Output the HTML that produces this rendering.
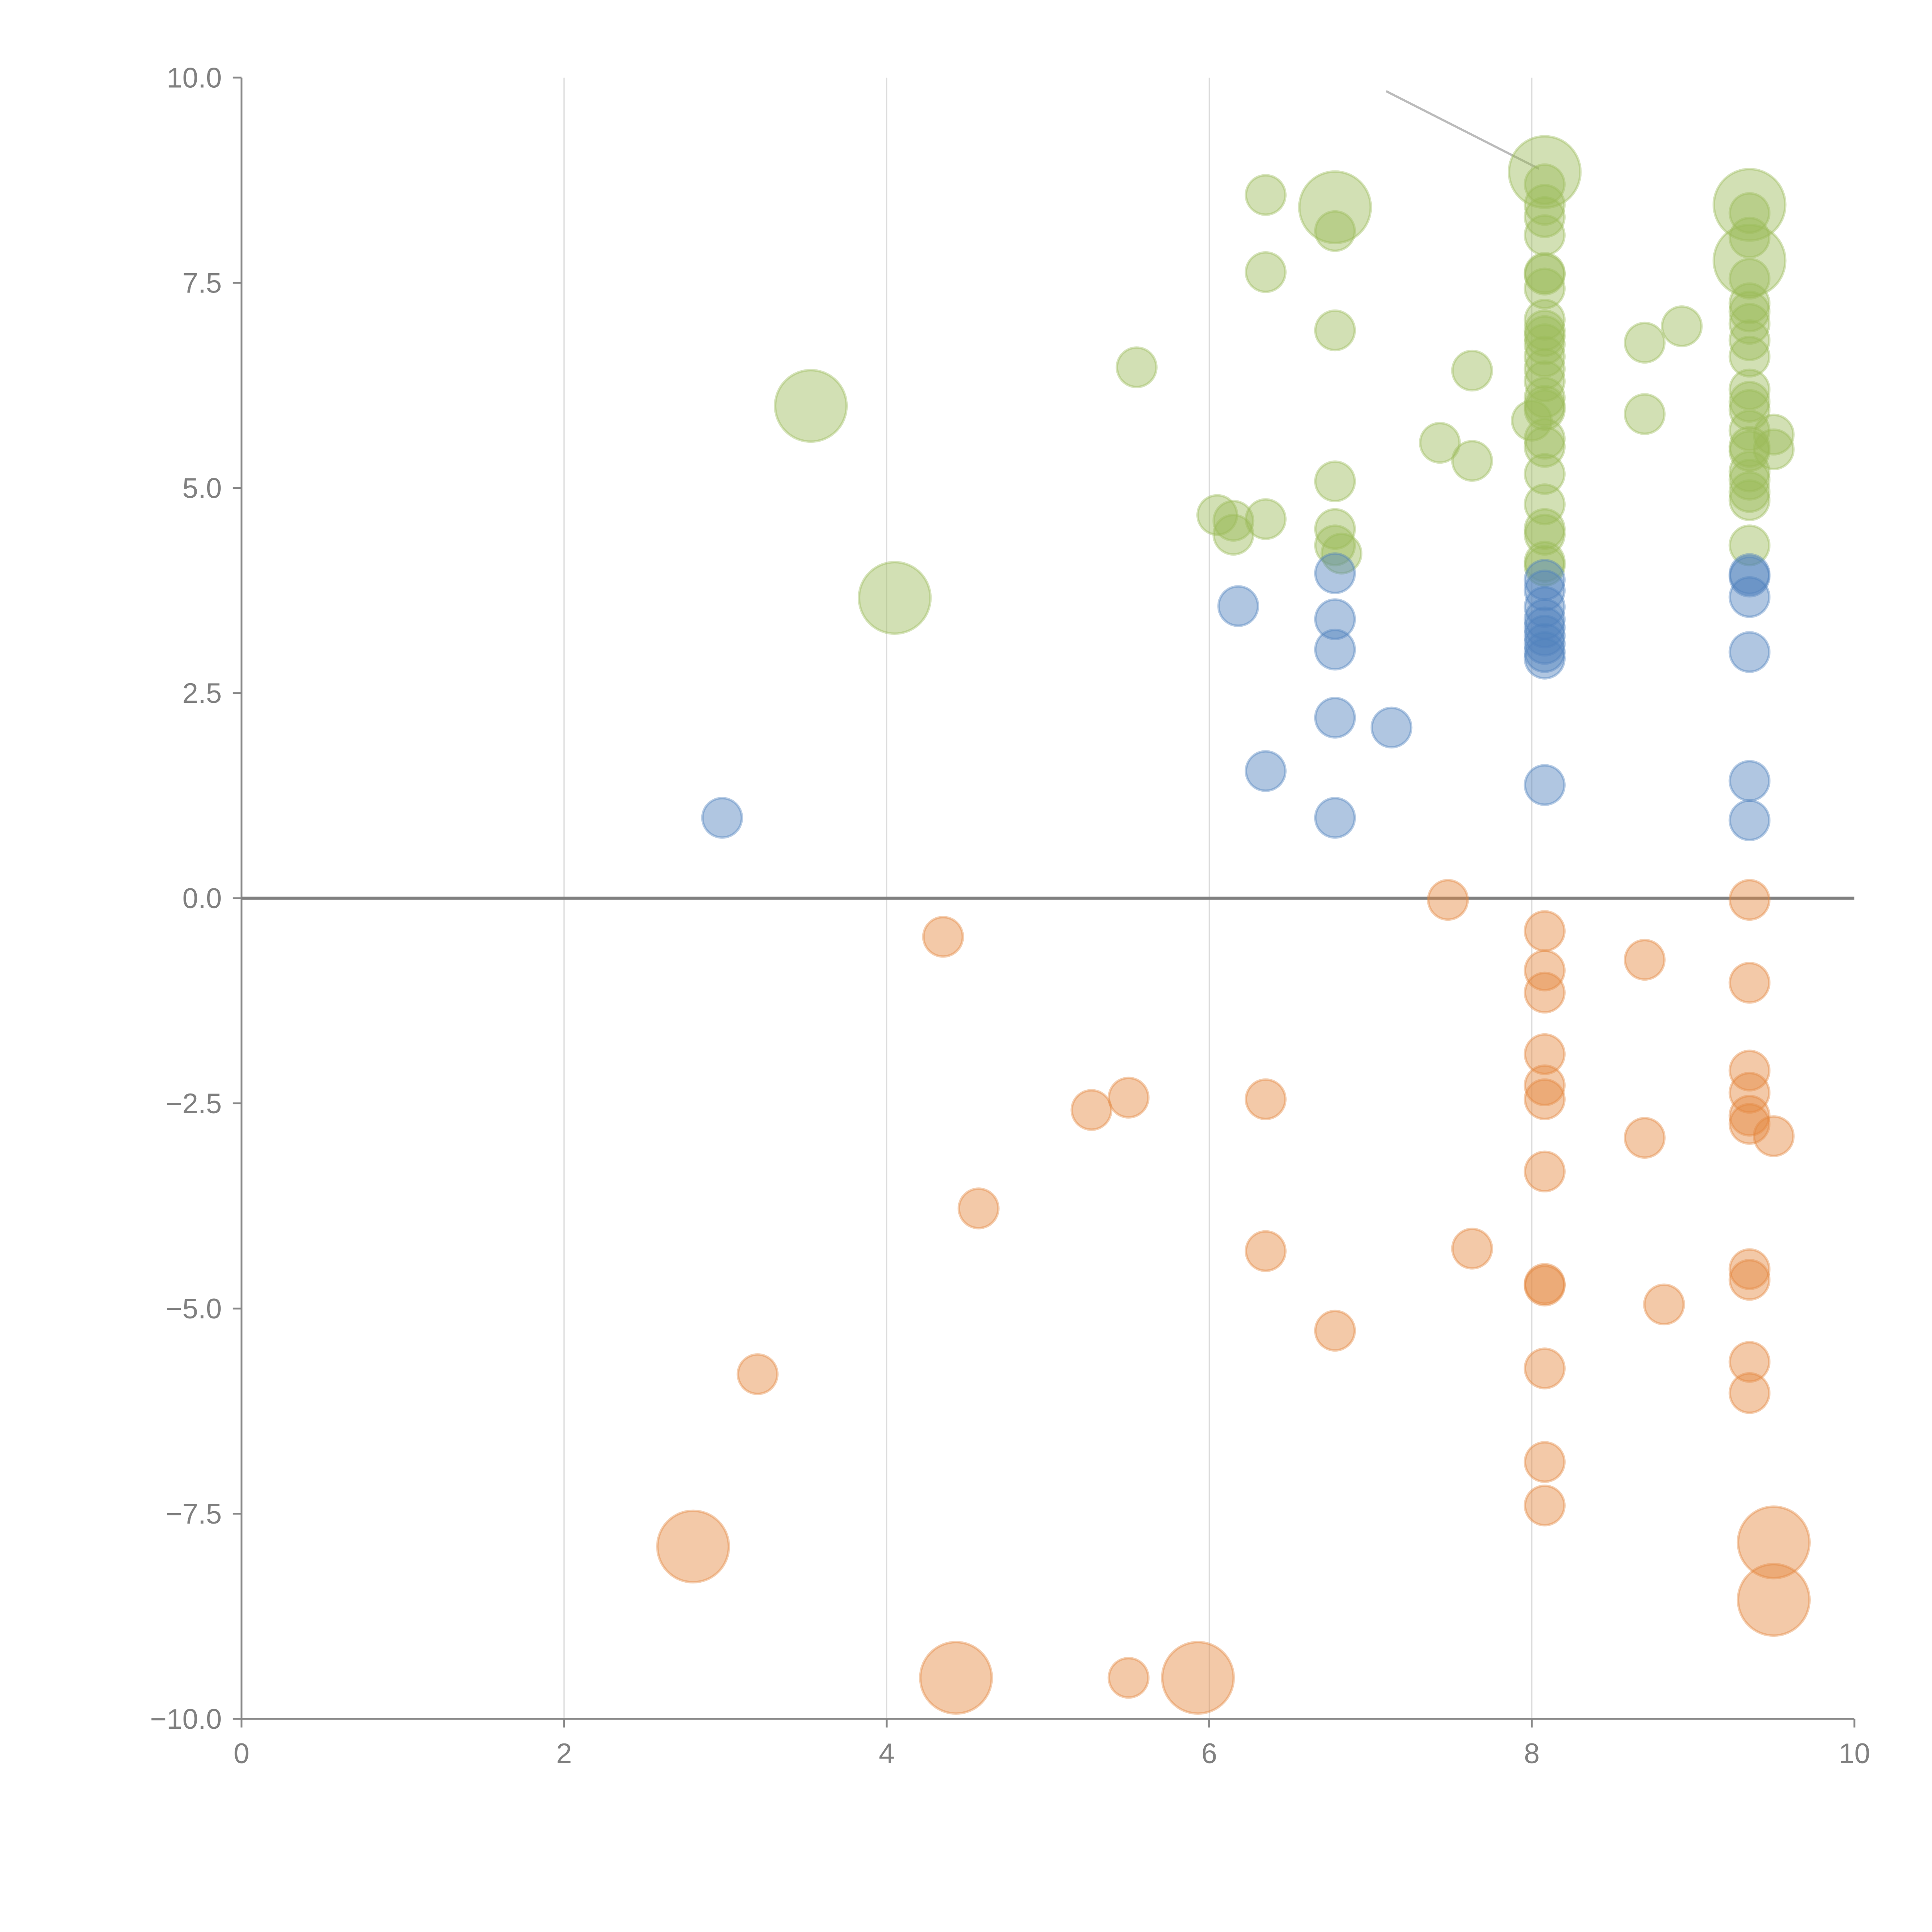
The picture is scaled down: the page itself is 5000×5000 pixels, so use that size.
<!DOCTYPE html>
<html><head><meta charset="utf-8"><style>
html,body{margin:0;padding:0;background:#fff}
svg{display:block}
text{font-family:"Liberation Sans",sans-serif;fill:#808080}
</style></head><body>
<svg id="chart" width="5000" height="5000" viewBox="0 0 1568 1568" xmlns="http://www.w3.org/2000/svg">
<g id="grid"></g>
<g id="axes"></g>
<g id="marks"></g>
</svg>
<script>
const xTicks=[0,2,4,6,8,10];
const yTicks=[-10,-7.5,-5,-2.5,0,2.5,5,7.5,10];
const greenX=[3.53,4.05,5.55,6.35,6.35,6.78,6.78,6.78,6.78,6.78,6.78,6.82,6.35,6.05,6.15,6.15,7.43,7.63,7.63,8.08,8.08,8.08,8.08,8.08,8.08,8.08,8.08,8.08,8.08,8.08,8.08,8.08,8.08,8.08,8.08,8.08,8.08,8.0,8.08,8.08,8.08,8.08,8.08,8.08,8.08,8.08,8.7,8.7,8.93,9.35,9.35,9.35,9.35,9.35,9.35,9.35,9.35,9.35,9.35,9.35,9.35,9.35,9.35,9.35,9.35,9.35,9.35,9.35,9.35,9.35,9.5,9.5];
const greenY=[6.0,3.66,6.47,8.57,7.63,8.42,8.13,6.92,5.08,4.5,4.3,4.2,4.62,4.67,4.43,4.6,5.55,5.33,6.43,8.85,8.7,8.45,8.3,8.08,7.62,7.6,7.43,7.05,6.92,6.85,6.75,6.6,6.45,6.3,6.1,6.0,5.95,5.82,5.6,5.5,5.17,4.8,4.5,4.43,4.1,4.05,6.77,5.9,6.97,8.45,8.35,8.05,7.77,7.55,7.25,7.15,7.0,6.8,6.6,6.2,6.05,5.95,5.7,5.5,5.45,5.2,5.1,4.95,4.85,4.3,5.65,5.47];
const greenS=[2,2,1,1,1,2,1,1,1,1,1,1,1,1,1,1,1,1,1,2,1,1,1,1,1,1,1,1,1,1,1,1,1,1,1,1,1,1,1,1,1,1,1,1,1,1,1,1,1,2,1,1,2,1,1,1,1,1,1,1,1,1,1,1,1,1,1,1,1,1,1,1];
const blueX=[2.98,6.18,6.35,6.78,6.78,6.78,6.78,6.78,7.13,8.08,8.08,8.08,8.08,8.08,8.08,8.08,8.08,8.08,8.08,9.35,9.35,9.35,9.35,9.35,9.35];
const blueY=[0.98,3.56,1.55,3.96,3.4,3.03,2.2,0.98,2.08,3.88,3.75,3.55,3.4,3.3,3.2,3.1,3.0,2.92,1.38,3.95,3.92,3.67,3.0,1.43,0.95];
const orangeX=[4.35,4.57,3.2,2.8,4.43,5.5,5.93,5.27,5.5,6.35,6.35,6.78,7.48,7.63,8.08,8.08,8.08,8.08,8.08,8.08,8.08,8.08,8.08,8.08,8.08,8.08,8.7,8.7,8.82,9.35,9.35,9.35,9.35,9.35,9.35,9.35,9.35,9.35,9.35,9.5,9.5,9.5];
const orangeY=[-0.47,-3.78,-5.8,-7.9,-9.5,-9.5,-9.5,-2.58,-2.43,-2.45,-4.3,-5.27,-0.02,-4.27,-0.4,-0.88,-1.15,-1.9,-2.28,-2.45,-3.33,-4.7,-4.72,-5.73,-6.87,-7.4,-0.75,-2.92,-4.95,-0.02,-1.03,-2.1,-2.37,-2.65,-2.75,-4.52,-4.65,-5.65,-6.03,-2.9,-7.85,-8.55];
const orangeS=[1,1,1,2,2,1,2,1,1,1,1,1,1,1,1,1,1,1,1,1,1,1,1,1,1,1,1,1,1,1,1,1,1,1,1,1,1,1,1,1,2,2];

const NS="http://www.w3.org/2000/svg";
const X0=196,X1=1505,Y0=1395,Y1=63;
const sx=v=>X0+(v-0)/(10-0)*(X1-X0);
const sy=v=>Y0-(v+10)/20*(Y0-Y1);
const rs=s=>s===2?29:16;
function mk(tag,attrs,parent){const e=document.createElementNS(NS,tag);for(const k in attrs)e.setAttribute(k,attrs[k]);parent.appendChild(e);return e;}
const grid=document.getElementById('grid'),axes=document.getElementById('axes'),marks=document.getElementById('marks');
xTicks.forEach(t=>{
  if(t>0&&t<10){const g=mk('line',{x1:sx(t),x2:sx(t),y1:Y1,y2:Y0,stroke:'#dcdcdc','stroke-width':1},grid);
  
  }
  const tk=mk('line',{x1:sx(t),x2:sx(t),y1:Y0,y2:Y0+7,stroke:'#888','stroke-width':1.5},axes);
  
  
  const tx=mk('text',{x:sx(t),y:Y0+36,'text-anchor':'middle','font-size':23},axes);
  tx.textContent=String(t);
  
  
});
yTicks.forEach(t=>{
  const tk=mk('line',{x1:X0-7,x2:X0,y1:sy(t),y2:sy(t),stroke:'#888','stroke-width':1.5},axes);
  
  
  const tx=mk('text',{x:X0-16,y:sy(t)+8,'text-anchor':'end','font-size':23},axes);
  tx.textContent=(t<0?'\u2212':'')+Math.abs(t).toFixed(1);
  
  
});
const ya=mk('line',{x1:X0,x2:X0,y1:Y1,y2:Y0,stroke:'#888','stroke-width':1.5},axes);


const xa=mk('line',{x1:X0,x2:X1,y1:Y0,y2:Y0,stroke:'#888','stroke-width':1.5},axes);


const zl=mk('line',{x1:X0,x2:X1,y1:sy(0),y2:sy(0),stroke:'#808080','stroke-width':2.5},axes);


function series(xs,ys,ss,col,name){
  xs.forEach((x,i)=>{
    const c=mk('circle',{cx:sx(x),cy:sy(ys[i]),r:rs(ss?ss[i]:1),fill:col,'fill-opacity':0.45,stroke:col,'stroke-opacity':0.4,'stroke-width':2},marks);
    
    
  });
}
series(greenX,greenY,greenS,'#9bbb59','bubble-green');
series(blueX,blueY,null,'#4f81bd','bubble-blue');
series(orangeX,orangeY,orangeS,'#e4883e','bubble-orange');
const ld=mk('line',{x1:1125,y1:74,x2:1249,y2:137,stroke:'#bbb','stroke-width':1.8},axes);


</script>
</body></html>
